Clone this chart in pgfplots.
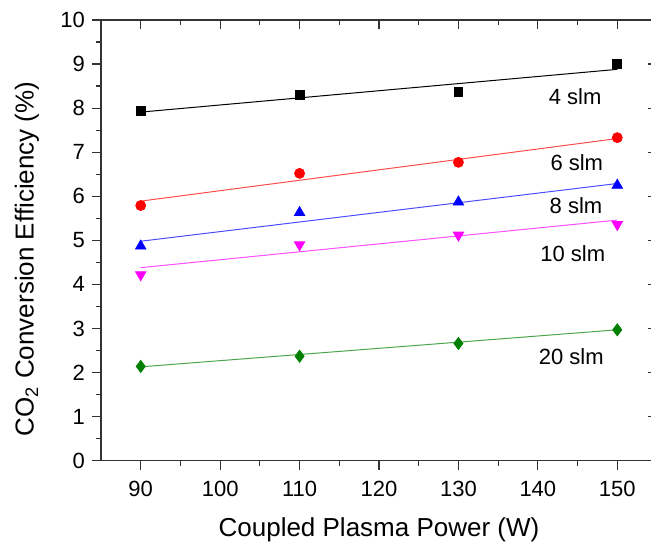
\documentclass[border=0pt]{standalone}
\usepackage{pgfplots}
\pgfplotsset{compat=1.18}
\usepackage{fontspec}
\setmainfont{Liberation Sans}
\definecolor{dgreen}{RGB}{0,128,0}
\definecolor{mag}{RGB}{255,0,255}
\begin{document}
\begin{tikzpicture}
\pgfplotsset{
  common/.style={
    scale only axis, width=278pt, height=220.35pt,
    xmin=85, xmax=155, ymin=0, ymax=10,
    xtick={90,100,...,150}, ytick={0,1,...,10},
    minor x tick num=1, minor y tick num=1,
    major tick length=4.5pt, minor tick length=2.5pt,
    axis line style={line width=0.6pt, black!80},
    every tick/.style={line width=0.6pt, black!80},
  }
}
\begin{axis}[common, name=ax,
  xtick pos=left, ytick pos=left, tick align=outside,
  /pgf/number format/assume math mode=true,
  ticklabel style={font=\fontsize{11}{13}\selectfont},
  xticklabel style={yshift=-2pt},
  xlabel={Coupled Plasma Power (W)},
  ylabel={CO\textsubscript{2} Conversion Efficiency (\%)},
  label style={font=\fontsize{13}{15}\selectfont},
  xlabel style={at={(rel axis cs:0.5,0)}, anchor=center, yshift=-34.6pt},
  ylabel style={at={(rel axis cs:0,0.458)}, anchor=center, yshift=37pt},
]
% fit lines
\addplot[black, line width=0.5pt] coordinates {(90,7.91) (150,8.88)};
\addplot[red!70, line width=0.5pt] coordinates {(90,5.89) (150,7.31)};
\addplot[blue!70, line width=0.5pt] coordinates {(90,4.98) (150,6.29)};
\addplot[mag!70, line width=0.5pt] coordinates {(90,4.38) (150,5.46)};
\addplot[dgreen!70, line width=0.5pt] coordinates {(90,2.13) (150,2.97)};
% data
\addplot[only marks, mark=square*, mark size=2.2pt, black] coordinates {(90,7.94) (110,8.30) (130,8.36) (150,9.01)};
\addplot[only marks, mark=*, mark size=2.5pt, red] coordinates {(90,5.79) (110,6.52) (130,6.77) (150,7.33)};
\addplot[only marks, mark=triangle*, mark size=3pt, blue] coordinates {(90,4.87) (110,5.63) (130,5.87) (150,6.25)};
\addplot[only marks, mark=triangle*, mark size=3pt, mark options={rotate=180}, mag] coordinates {(90,4.22) (110,4.90) (130,5.12) (150,5.36)};
\addplot[only marks, mark=diamond*, mark size=3pt, dgreen] coordinates {(90,2.14) (110,2.37) (130,2.66) (150,2.97)};
% labels
\node[font=\fontsize{11}{13}\selectfont] at (axis cs:144.7,8.26) {4 slm};
\node[font=\fontsize{11}{13}\selectfont] at (axis cs:144.9,6.76) {6 slm};
\node[font=\fontsize{11}{13}\selectfont] at (axis cs:144.8,5.78) {8 slm};
\node[font=\fontsize{11}{13}\selectfont] at (axis cs:144.4,4.70) {10 slm};
\node[font=\fontsize{11}{13}\selectfont] at (axis cs:144.2,2.37) {20 slm};
\end{axis}
\begin{axis}[common,
  xtick pos=right, ytick pos=right, tick align=inside,
  xticklabels={}, yticklabels={},
]
\end{axis}
\pgfresetboundingbox
\path[use as bounding box] ([xshift=-50.5pt,yshift=-42.15pt]ax.south west) rectangle ([xshift=-3pt,yshift=10pt]ax.north east);
\end{tikzpicture}
\end{document}
